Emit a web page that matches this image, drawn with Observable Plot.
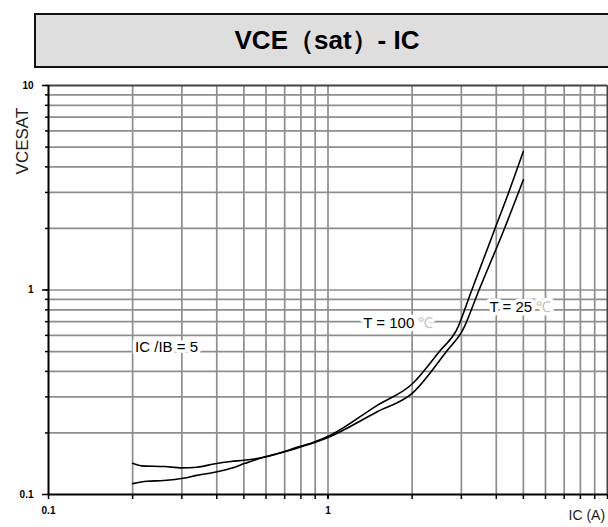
<!DOCTYPE html>
<html>
<head>
<meta charset="utf-8">
<script src="https://cdn.jsdelivr.net/npm/d3@7"></script>
<script src="https://cdn.jsdelivr.net/npm/@observablehq/plot@0.6"></script>
<style>
  html, body { margin: 0; padding: 0; background: #fff; overflow: hidden; }
  #wrap { position: relative; width: 608px; height: 527px; overflow: hidden; }
  #title {
    position: absolute; left: 34px; top: 13px; width: 586px; height: 55px;
    box-sizing: border-box; border: 2px solid #111; background: #dedede;
    font: bold 26px "Liberation Sans", Arial, sans-serif; color: #000;
    display: flex; align-items: center; justify-content: center;
  }
  #chart { position: absolute; left: 0; top: 0; }
</style>
</head>
<body>
<div id="wrap">
  <div id="chart"></div>
  <div id="title">VCE（sat）- IC</div>
</div>
<script>
// ---- data ----
const gridX = [0.2, 0.3, 0.4, 0.5, 0.6, 0.7, 0.8, 0.9, 1, 2, 3, 4, 5, 6, 7, 8, 9];
const gridY = [0.2, 0.3, 0.4, 0.5, 0.6, 0.7, 0.8, 0.9, 1, 2, 3, 4, 5, 6, 7, 8, 9];
const xLabelTicks = [0.1, 1];
const xLabelText = ["0.1", "1"];
const yLabelTicks = [0.1, 1, 10];
const yLabelText = ["0.1", "1", "10"];

// T = 100 ℃ curve (lower at small IC, steeper/left at large IC)
const ic100 = [0.2, 0.225, 0.258, 0.304, 0.339, 0.389, 0.447, 0.505, 0.588, 0.675, 0.774, 0.888, 1.02, 1.5, 2.0, 2.52, 2.88, 3.27, 3.96, 4.43, 5.0];
const vce100 = [0.113, 0.116, 0.117, 0.12, 0.124, 0.128, 0.134, 0.142, 0.152, 0.16, 0.17, 0.18, 0.195, 0.273, 0.347, 0.506, 0.634, 1.0, 2.0, 3.0, 4.77];

// T = 25 ℃ curve
const ic25 = [0.2, 0.215, 0.26, 0.3, 0.34, 0.39, 0.45, 0.5, 0.59, 0.68, 0.78, 0.89, 1.0, 1.5, 2.0, 2.67, 3.03, 3.47, 4.28, 5.0];
const vce25 = [0.142, 0.138, 0.137, 0.135, 0.136, 0.141, 0.145, 0.147, 0.152, 0.16, 0.169, 0.179, 0.19, 0.254, 0.312, 0.506, 0.634, 1.0, 2.0, 3.46];

// annotations (positions in data units)
const noteText = ["IC /IB = 5", "T = 100 ℃", "T = 25 ℃"];
const noteX = [0.204, 1.337, 3.78];
const noteY = [0.523, 0.686, 0.821];
const yTitle = "VCESAT";
const yTitleX = 0.0805;
const yTitleY = 5.35;
const xTitle = "IC (A)";

const series = [
  ...ic100.map((x, i) => ({x, y: vce100[i], s: "T=100"})),
  ...ic25.map((x, i) => ({x, y: vce25[i], s: "T=25"}))
];

const font = "'Liberation Sans', Arial, sans-serif";

const chart = Plot.plot({
  width: 608,
  height: 527,
  marginLeft: 48,
  marginRight: 1,
  marginTop: 85,
  marginBottom: 33,
  style: {fontFamily: font, background: "transparent", overflow: "visible"},
  x: {type: "log", domain: [0.1, 10], axis: null},
  y: {type: "log", domain: [0.1, 10], axis: null},
  marks: [
    Plot.ruleX(gridX, {stroke: "#8e8e8e", strokeWidth: 1.7}),
    Plot.ruleY(gridY, {stroke: "#8e8e8e", strokeWidth: 1.7}),
    Plot.ruleY([10], {stroke: "#444", strokeWidth: 2}),
    Plot.ruleX([10], {stroke: "#444", strokeWidth: 2}),
    Plot.ruleX([0.1], {stroke: "#000", strokeWidth: 2}),
    Plot.ruleY([0.1], {stroke: "#000", strokeWidth: 2}),
    Plot.axisY({ticks: gridY.concat([10]), tickSize: 3, tickFormat: () => "", label: null, stroke: "#000", strokeWidth: 1.5}),
    Plot.axisY({ticks: yLabelTicks, tickSize: 6, tickPadding: 9, tickFormat: d => yLabelText[yLabelTicks.indexOf(d)], label: null,
      fontSize: 10, fontWeight: "bold", stroke: "#000", strokeWidth: 1.5}),
    Plot.axisX({ticks: gridX.concat([10]), tickSize: 5, tickFormat: () => "", label: null, stroke: "#000", strokeWidth: 1.5}),
    Plot.axisX({ticks: xLabelTicks, tickSize: 5, tickPadding: 7, tickFormat: d => xLabelText[xLabelTicks.indexOf(d)], label: null,
      fontSize: 10, fontWeight: "bold", stroke: "#000", strokeWidth: 1.5}),
    Plot.line(series, {x: "x", y: "y", z: "s", stroke: "#000", strokeWidth: 1.6, curve: "monotone-x"}),
    Plot.text(noteText, {
      x: (d, i) => noteX[i], y: (d, i) => noteY[i], text: d => d,
      textAnchor: "start", fontSize: 15, fill: "#000",
      stroke: "#fff", strokeWidth: 7
    }),
    Plot.text([yTitle], {x: yTitleX, y: yTitleY, rotate: -90, fontSize: 17, fill: "#222", text: d => d}),
    Plot.text([xTitle], {frameAnchor: "bottom-right", dx: -39, dy: 25, textAnchor: "start", fontSize: 14, fill: "#222", text: d => d})
  ]
});

// grey degree sign, as in the reference
chart.querySelectorAll("text").forEach(t => {
  if (t.children.length === 0 && t.textContent.includes("℃")) {
    const base = t.textContent.replace("℃", "");
    t.textContent = base;
    const ts = document.createElementNS("http://www.w3.org/2000/svg", "tspan");
    ts.setAttribute("fill", "#c4c4c4");
    ts.textContent = "℃";
    t.appendChild(ts);
  }
});

document.getElementById("chart").appendChild(chart);
</script>
</body>
</html>
